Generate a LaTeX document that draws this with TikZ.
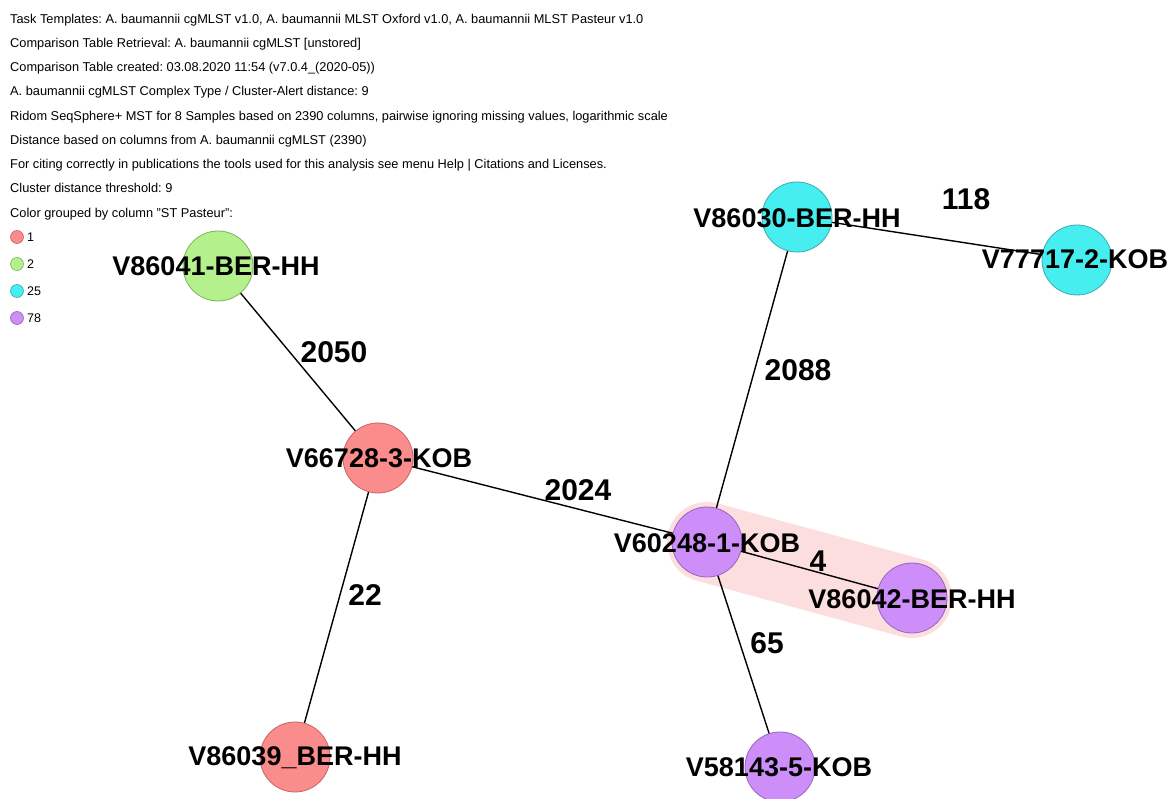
\documentclass[tikz,border=0pt]{standalone}
\usepackage{fontspec}
\setmainfont{Liberation Sans}
\usetikzlibrary{backgrounds}
\frenchspacing

\definecolor{stred}{RGB}{250,140,140}
\definecolor{stredline}{RGB}{200,100,100}
\definecolor{stgreen}{RGB}{180,240,140}
\definecolor{stgreenline}{RGB}{120,180,90}
\definecolor{stcyan}{RGB}{70,238,240}
\definecolor{stcyanline}{RGB}{60,170,175}
\definecolor{stpurple}{RGB}{206,142,250}
\definecolor{stpurpleline}{RGB}{150,100,185}
\definecolor{clusterpink}{RGB}{252,222,222}

\begin{document}
\begin{tikzpicture}
    [x=1pt,y=-1pt,inner sep=0pt,
     sample/.style={circle,minimum size=70pt,line width=0.8pt},
     samplename/.style={font=\fontsize{27}{30}\selectfont\bfseries,text height=19.3pt,text depth=0pt},
     dist/.style={font=\fontsize{30}{34}\selectfont\bfseries,text height=21.5pt,text depth=0pt},
     edge/.style={line width=1.4pt},
     info/.style={anchor=base west,font=\fontsize{12.8}{14}\selectfont},
     key/.style={circle,minimum size=13pt,line width=0.6pt},
     keytext/.style={anchor=west,font=\fontsize{12.5}{14}\selectfont,text height=8.9pt,text depth=0pt}]

    \useasboundingbox (0,0) rectangle (1172,799);

    % header lines:
    \node (info1) at (10,23.3) [info] {Task Templates: A. baumannii cgMLST v1.0, A. baumannii MLST Oxford v1.0, A. baumannii MLST Pasteur v1.0};
    \node (info2) at (10,47.5) [info] {Comparison Table Retrieval: A. baumannii cgMLST [unstored]};
    \node (info3) at (10,71.8) [info] {Comparison Table created: 03.08.2020 11:54 (v7.0.4\_(2020-05))};
    \node (info4) at (10,96.0) [info] {A. baumannii cgMLST Complex Type / Cluster-Alert distance: 9};
    \node (info5) at (10,120.3) [info] {Ridom SeqSphere+ MST for 8 Samples based on 2390 columns, pairwise ignoring missing values, logarithmic scale};
    \node (info6) at (10,144.5) [info] {Distance based on columns from A. baumannii cgMLST (2390)};
    \node (info7) at (10,168.8) [info] {For citing correctly in publications the tools used for this analysis see menu Help | Citations and Licenses.};
    \node (info8) at (10,193.0) [info] {Cluster distance threshold: 9};
    \node (info9) at (10,217.3) [info] {Color grouped by column "ST Pasteur":};

    % legend:
    \node (key1) at (17,237) [key,fill=stred,draw=stredline] {};
    \node (key2) at (17,264) [key,fill=stgreen,draw=stgreenline] {};
    \node (key3) at (17,291) [key,fill=stcyan,draw=stcyanline] {};
    \node (key4) at (17,318) [key,fill=stpurple,draw=stpurpleline] {};
    \node (key1text) at (27,237) [keytext] {1};
    \node (key2text) at (27,264) [keytext] {2};
    \node (key3text) at (27,291) [keytext] {25};
    \node (key4text) at (27,318) [keytext] {78};

    % samples, ST 2:
    \node (s41) at (218,266) [sample,fill=stgreen,draw=stgreenline] {};

    % samples, ST 1:
    \node (s28) at (378,458) [sample,fill=stred,draw=stredline] {};
    \node (s39) at (295,757) [sample,fill=stred,draw=stredline] {};

    % samples, ST 78:
    \node (s48) at (707,542) [sample,fill=stpurple,draw=stpurpleline] {};
    \node (s42) at (912,598) [sample,fill=stpurple,draw=stpurpleline] {};
    \node (s43) at (780,767) [sample,fill=stpurple,draw=stpurpleline] {};

    % samples, ST 25:
    \node (s30) at (797,217) [sample,fill=stcyan,draw=stcyanline] {};
    \node (s17) at (1077,260) [sample,fill=stcyan,draw=stcyanline] {};

    % cluster:
    \begin{scope}[on background layer]
      \draw [clusterpink,line width=80pt,line cap=round] (s48.center) to (s42.center);
    \end{scope}

    % connect samples:
    \draw [edge] (s41) to (s28);
    \draw [edge] (s28) to (s39);
    \draw [edge] (s28) to (s48);
    \draw [edge] (s48) to (s42);
    \draw [edge] (s48) to (s43);
    \draw [edge] (s48) to (s30);
    \draw [edge] (s30) to (s17);

    % sample names:
    \node (s41name) at (216,266) [samplename] {V86041-BER-HH};
    \node (s28name) at (379,458) [samplename] {V66728-3-KOB};
    \node (s39name) at (295,756) [samplename] {V86039\_BER-HH};
    \node (s48name) at (707,543) [samplename] {V60248-1-KOB};
    \node (s42name) at (912,599) [samplename] {V86042-BER-HH};
    \node (s43name) at (779,767) [samplename] {V58143-5-KOB};
    \node (s30name) at (797,218) [samplename] {V86030-BER-HH};
    \node (s17name) at (1075,259) [samplename] {V77717-2-KOB};

    % distances:
    \node (d2050) at (334,352) [dist] {2050};
    \node (d2024) at (578,490) [dist] {2024};
    \node (d22) at (365,595) [dist] {22};
    \node (d4) at (818,561) [dist] {4};
    \node (d65) at (767,643) [dist] {65};
    \node (d2088) at (798,370) [dist] {2088};
    \node (d118) at (966,199) [dist] {118};

  \end{tikzpicture}
\end{document}
